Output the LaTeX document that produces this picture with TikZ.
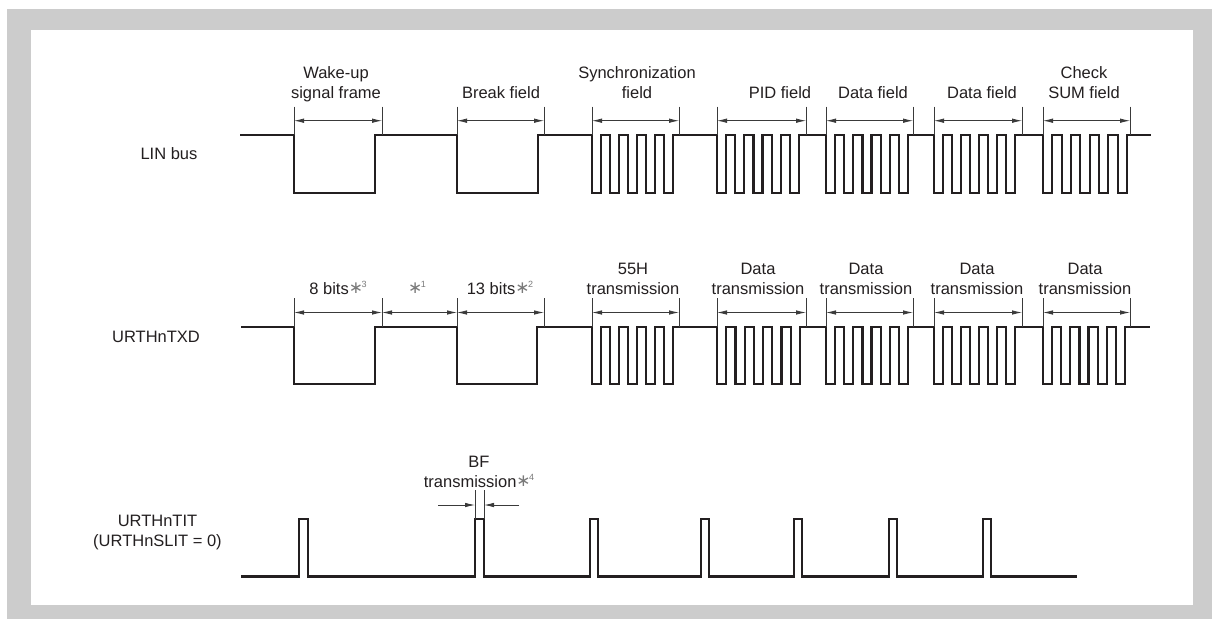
\documentclass[tikz,border=0pt]{standalone}
\usepackage{fontspec}
\setmainfont{Liberation Sans}
\newfontfamily\djv{DejaVu Sans}
\usetikzlibrary{arrows.meta}
\definecolor{framegray}{HTML}{CCCCCC}
\definecolor{sigcol}{HTML}{231F20}
\definecolor{dimcol}{HTML}{3A3A3A}
\definecolor{astgray}{HTML}{7A7A7A}
\newcommand\sigburst[4]{-- (#1,#3) -- (#1,#4)
  -- ++({(#2-#1)/9},0) -- ++(0,{#3-#4}) -- ++({(#2-#1)/9},0) -- ++(0,{#4-#3})
  -- ++({(#2-#1)/9},0) -- ++(0,{#3-#4}) -- ++({(#2-#1)/9},0) -- ++(0,{#4-#3})
  -- ++({(#2-#1)/9},0) -- ++(0,{#3-#4}) -- ++({(#2-#1)/9},0) -- ++(0,{#4-#3})
  -- ++({(#2-#1)/9},0) -- ++(0,{#3-#4}) -- ++({(#2-#1)/9},0) -- ++(0,{#4-#3})
  -- (#2,#4) -- (#2,#3)}
\newcommand\sigpulse[2]{-- (#1,576.5) -- (#1,519) -- (#2,519) -- (#2,576.5)}
\newcommand\astnote[1]{\textcolor{astgray}{{\djv\fontsize{17}{17}\selectfont\raisebox{0.5pt}{∗}}\kern-1.5pt\raisebox{6.5pt}{\fontsize{9}{9}\selectfont #1}}}
\begin{document}
\begin{tikzpicture}[x=1pt,y=-1pt,
  sig/.style={draw=sigcol,line width=2.2pt,line join=miter},
  tickline/.style={draw=dimcol,line width=0.8pt},
  dimline/.style={draw=dimcol,line width=0.8pt,{Latex[length=10pt,width=4.5pt]}-{Latex[length=10pt,width=4.5pt]}},
  oneway/.style={draw=dimcol,line width=0.8pt,-{Latex[length=10pt,width=4.5pt]}},
  lbl/.style={font=\fontsize{16.5}{20}\selectfont,text=sigcol,inner sep=0pt,align=center,anchor=base}]
\useasboundingbox (0,0) rectangle (1212,619);
\fill[framegray] (7,9) rectangle (1212,619);
\fill[white] (31,30) rectangle (1193,605);

% ---------- row 1: LIN bus ----------
\draw[sig] (240,135) -- (294,135) -- (294,193) -- (375,193) -- (375,135)
  -- (457,135) -- (457,193) -- (538,193) -- (538,135)
  \sigburst{592}{673}{135}{193} \sigburst{717}{799}{135}{193}
  \sigburst{826}{908}{135}{193} \sigburst{934}{1015}{135}{193}
  \sigburst{1043}{1127}{135}{193} -- (1151,135);
\foreach \x [count=\i] in {294,382,457,544,592,679,717,806,826,913,934,1022,1043,1130}{
  \draw[tickline] (\x,106.7) -- (\x,135);
  \coordinate (p\i) at (\x,120.7);
}
\foreach \a/\b in {1/2,3/4,5/6,7/8,9/10,11/12,13/14}{\draw[dimline] (p\a) -- (p\b);}
\node[lbl] (l1) at (336,98) {Wake-up\\signal frame};
\node[lbl] (l2) at (501,98) {Break field};
\node[lbl] (l3) at (637,98) {Synchronization\\field};
\node[lbl] (l4) at (780,98) {PID field};
\node[lbl] (l5) at (873,98) {Data field};
\node[lbl] (l6) at (982,98) {Data field};
\node[lbl] (l7) at (1084,98) {Check\\SUM field};
\node[lbl] (n1) at (169,159) {LIN bus};

% ---------- row 2: URTHnTXD ----------
\draw[sig] (241,327) -- (294,327) -- (294,384) -- (375,384) -- (375,327)
  -- (457,327) -- (457,384) -- (537,384) -- (537,327)
  \sigburst{592}{673}{327}{384} \sigburst{717}{800}{327}{384}
  \sigburst{826}{908}{327}{384} \sigburst{934}{1015}{327}{384}
  \sigburst{1043}{1125}{327}{384} -- (1150,327);
\foreach \x [count=\i] in {294,382,457,544,592,679,717,806,826,913,934,1022,1043,1130}{
  \draw[tickline] (\x,298.3) -- (\x,327);
  \coordinate (q\i) at (\x,312.5);
}
\foreach \a/\b in {1/2,2/3,3/4,5/6,7/8,9/10,11/12,13/14}{\draw[dimline] (q\a) -- (q\b);}
\node[lbl] (m1) at (338,294) {8 bits\astnote{3}};
\node[lbl] (m2) at (417,294) {\astnote{1}};
\node[lbl] (m3) at (500,294) {13 bits\astnote{2}};
\node[lbl] (m4) at (633,294) {55H\\transmission};
\node[lbl] (m5) at (758,294) {Data\\transmission};
\node[lbl] (m6) at (866,294) {Data\\transmission};
\node[lbl] (m7) at (977,294) {Data\\transmission};
\node[lbl] (m8) at (1085,294) {Data\\transmission};
\node[lbl] (n2) at (156,342) {URTHnTXD};

% ---------- row 3: URTHnTIT ----------
\draw[sig] (241,576.5) \sigpulse{299}{308} \sigpulse{475}{484} \sigpulse{590}{598}
  \sigpulse{701}{709} \sigpulse{794}{802} \sigpulse{889}{897} \sigpulse{983}{991}
  -- (1077,576.5);
\draw[tickline] (475,490) -- (475,519);
\draw[tickline] (484,490) -- (484,519);
\coordinate (bfl) at (475,505);
\coordinate (bfr) at (484,505);
\coordinate (bfl0) at (438,505);
\coordinate (bfr0) at (519,505);
\draw[oneway] (bfl0) -- (bfl);
\draw[oneway] (bfr0) -- (bfr);
\node[lbl] (k1) at (479,487) {BF\\transmission\astnote{4}};
\node[lbl] (n3) at (157.5,546) {URTHnTIT\\(URTHnSLIT = 0)};
\end{tikzpicture}
\end{document}
